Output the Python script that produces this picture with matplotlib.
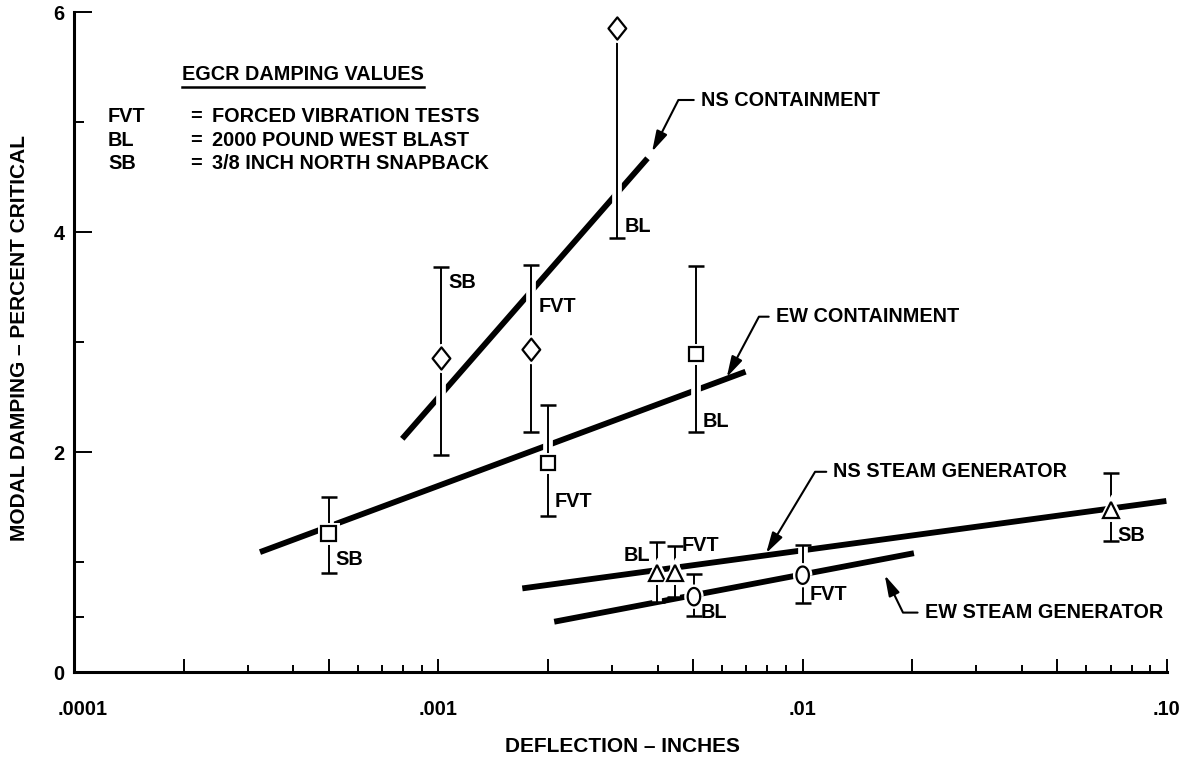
import numpy as np
import matplotlib
matplotlib.use("Agg")
import matplotlib.pyplot as plt
from matplotlib import patheffects as pe
from matplotlib.path import Path
from matplotlib.lines import Line2D
from matplotlib.ticker import FixedLocator
from matplotlib.transforms import ScaledTranslation

# ── values ──
# NS containment (diamonds)
ns_x = [0.00102, 0.0018, 0.0031]
ns_y = [2.85, 2.93, 5.85]
ns_lo = [1.97, 2.18, 3.95]
ns_hi = [3.68, 3.70, 5.85]
ns_tag = ["SB", "FVT", "BL"]
ns_tag_y = [3.54, 3.32, 4.05]
ns_fit_x = [0.000796, 0.00375]
ns_fit_y = [2.12, 4.67]

# EW containment (squares)
ew_x = [0.0005, 0.002, 0.0051]
ew_y = [1.26, 1.90, 2.89]
ew_lo = [0.90, 1.42, 2.18]
ew_hi = [1.59, 2.43, 3.69]
ew_tag = ["SB", "FVT", "BL"]
ew_tag_y = [1.02, 1.55, 2.28]
ew_fit_x = [0.000324, 0.00697]
ew_fit_y = [1.09, 2.73]

# NS steam generator (triangles)
nssg_x = [0.00398, 0.00446, 0.070]
nssg_y = [0.90, 0.90, 1.47]
nssg_lo = [0.64, 0.68, 1.19]
nssg_hi = [1.18, 1.15, 1.81]
nssg_tag = ["BL", "FVT", "SB"]
nssg_tag_y = [1.06, 1.15, 1.24]
nssg_fit_x = [0.0017, 0.0996]
nssg_fit_y = [0.76, 1.555]

# EW steam generator (circles)
ewsg_x = [0.00503, 0.01]
ewsg_y = [0.685, 0.88]
ewsg_lo = [0.51, 0.63]
ewsg_hi = [0.89, 1.155]
ewsg_tag = ["BL", "FVT"]
ewsg_tag_y = [0.54, 0.70]
ewsg_fit_x = [0.00208, 0.0202]
ewsg_fit_y = [0.457, 1.08]

x_ticks = [1e-4, 1e-3, 1e-2, 1e-1]
x_ticklabels = [".0001", ".001", ".01", ".10"]
y_ticks = [0, 2, 4, 6]

legend_keys = ["FVT", "BL", "SB"]
legend_desc = ["FORCED VIBRATION TESTS", "2000 POUND WEST BLAST", "3/8 INCH NORTH SNAPBACK"]

plt.rcParams["font.family"] = ["Liberation Sans", "DejaVu Sans"]
plt.rcParams["font.weight"] = "bold"
FS = 14.3
FS_AX = 15

W, H = 1195, 760
fig = plt.figure(figsize=(W / 100, H / 100), dpi=100)
ax = fig.add_axes([74 / W, 1 - 672 / H, (1167 - 74) / W, 660 / H])
ax.set_xscale("log")
ax.set_xlim(1e-4, 1e-1)
ax.set_ylim(0, 6)
for s in ("top", "right"):
    ax.spines[s].set_visible(False)
for s in ("left", "bottom"):
    ax.spines[s].set_linewidth(2.2)

# x ticks: decades + 2 and 5 longer, rest short
x_major = []
x_minor = []
for d in (1e-4, 1e-3, 1e-2):
    x_major += [d, 2 * d, 5 * d]
    x_minor += [k * d for k in (3, 4, 6, 7, 8, 9)]
x_major.append(1e-1)
ax.xaxis.set_major_locator(FixedLocator(x_major))
ax.xaxis.set_minor_locator(FixedLocator(x_minor))
ax.set_xticklabels([x_ticklabels[x_ticks.index(v)] if v in x_ticks else "" for v in x_major])
ax.tick_params(axis="x", which="major", direction="in", length=9.5, width=1.4, pad=20, labelsize=FS)
ax.tick_params(axis="x", which="minor", direction="in", length=5, width=1.4)
# the first label sits a little right of its tick in the original
lab0 = ax.get_xticklabels()[0]
lab0.set_transform(lab0.get_transform() + ScaledTranslation(0.09, 0, fig.dpi_scale_trans))

ax.set_yticks(y_ticks)
ax.set_yticklabels([str(v) for v in y_ticks])
ax.yaxis.set_minor_locator(FixedLocator([0.5, 1, 3, 5]))
ax.tick_params(axis="y", which="major", direction="in", length=13, width=1.4, pad=7, labelsize=FS)
ax.tick_params(axis="y", which="minor", direction="in", length=7, width=1.4)

# marker shapes
diamond = Path([(0, 1), (0.8, 0), (0, -1), (-0.8, 0), (0, 1)], closed=True)
t = np.linspace(0, 2 * np.pi, 40)
oval = Path(np.column_stack([0.72 * np.cos(t), np.sin(t)]))

halo = [pe.withStroke(linewidth=7, foreground="white")]


def draw_series(xs, ys, lo, hi, fx, fy, marker, ms, tags, tag_y, sides=None):
    ax.plot(fx, fy, color="black", lw=4.2, solid_capstyle="butt", zorder=2)
    ax.vlines(xs, lo, hi, color="black", lw=1.4, zorder=3, path_effects=halo)
    ax.plot(xs, lo, ls="none", marker="_", ms=11, mew=1.8, color="black", zorder=3)
    top = [(x, h) for x, y, h in zip(xs, ys, hi) if h > y + 0.05]
    ax.plot([p[0] for p in top], [p[1] for p in top], ls="none", marker="_",
            ms=11, mew=1.8, color="black", zorder=3)
    ax.plot(xs, ys, ls="none", marker=marker, ms=ms, mfc="white", mec="black",
            mew=1.6, zorder=4, path_effects=[pe.withStroke(linewidth=5, foreground="white")])
    sides = sides or ["right"] * len(xs)
    for x, ty, lab, sd in zip(xs, tag_y, tags, sides):
        off = 5 if sd == "right" else -5
        ax.annotate(lab, (x, ty), xytext=(off, 0), textcoords="offset points",
                    ha="left" if sd == "right" else "right", va="center", fontsize=FS)


draw_series(ns_x, ns_y, ns_lo, ns_hi, ns_fit_x, ns_fit_y, diamond, 16, ns_tag, ns_tag_y)
draw_series(ew_x, ew_y, ew_lo, ew_hi, ew_fit_x, ew_fit_y, "s", 10.5, ew_tag, ew_tag_y)
draw_series(nssg_x, nssg_y, nssg_lo, nssg_hi, nssg_fit_x, nssg_fit_y, "^", 11.5,
            nssg_tag, nssg_tag_y, ["left", "right", "right"])
draw_series(ewsg_x, ewsg_y, ewsg_lo, ewsg_hi, ewsg_fit_x, ewsg_fit_y, oval, 12.5, ewsg_tag, ewsg_tag_y)

# series names with leader arrows
callouts = [
    ("NS CONTAINMENT", (0.00525, 5.2), (0.00386, 4.73), 63),
    ("EW CONTAINMENT", (0.00843, 3.23), (0.00619, 2.68), 62),
    ("NS STEAM GENERATOR", (0.01213, 1.82), (0.00794, 1.08), 59),
    ("EW STEAM GENERATOR", (0.0216, 0.54), (0.0168, 0.88), 116),
]
for name, txy, tip, ang in callouts:
    ax.annotate(name, xy=tip, xytext=txy, ha="left", va="center", fontsize=FS,
                arrowprops=dict(arrowstyle="-|>,head_length=0.9,head_width=0.25", color="black",
                                lw=1.5, mutation_scale=14, shrinkA=3, shrinkB=0, relpos=(0, 0.5),
                                connectionstyle=f"angle,angleA=0,angleB={ang},rad=0"))

# key block
hdr = fig.text(182 / W, 1 - 74 / H, "EGCR DAMPING VALUES", fontsize=FS, va="center", ha="left")
for i, (k, d) in enumerate(zip(legend_keys, legend_desc)):
    yy = 1 - (116.7 + 23.3 * i) / H
    fig.text(108 / W, yy, k, fontsize=FS, va="center")
    fig.text(190 / W, yy, "=", fontsize=FS, va="center")
    fig.text(212 / W, yy, d, fontsize=FS, va="center")

fig.text(20 / W, 1 - 338 / H, "MODAL DAMPING – PERCENT CRITICAL", rotation=90,
         fontsize=FS_AX, ha="center", va="center")
fig.text(622 / W, 1 - 746 / H, "DEFLECTION – INCHES", fontsize=FS_AX, ha="center", va="center")

# underline the key header
fig.canvas.draw()
bb = hdr.get_window_extent()
fig.add_artist(Line2D([bb.x0 / W, bb.x1 / W], [(bb.y0 - 3) / H, (bb.y0 - 3) / H],
                      transform=fig.transFigure, color="black", lw=1.8))

fig.savefig("out.png", dpi=100)
